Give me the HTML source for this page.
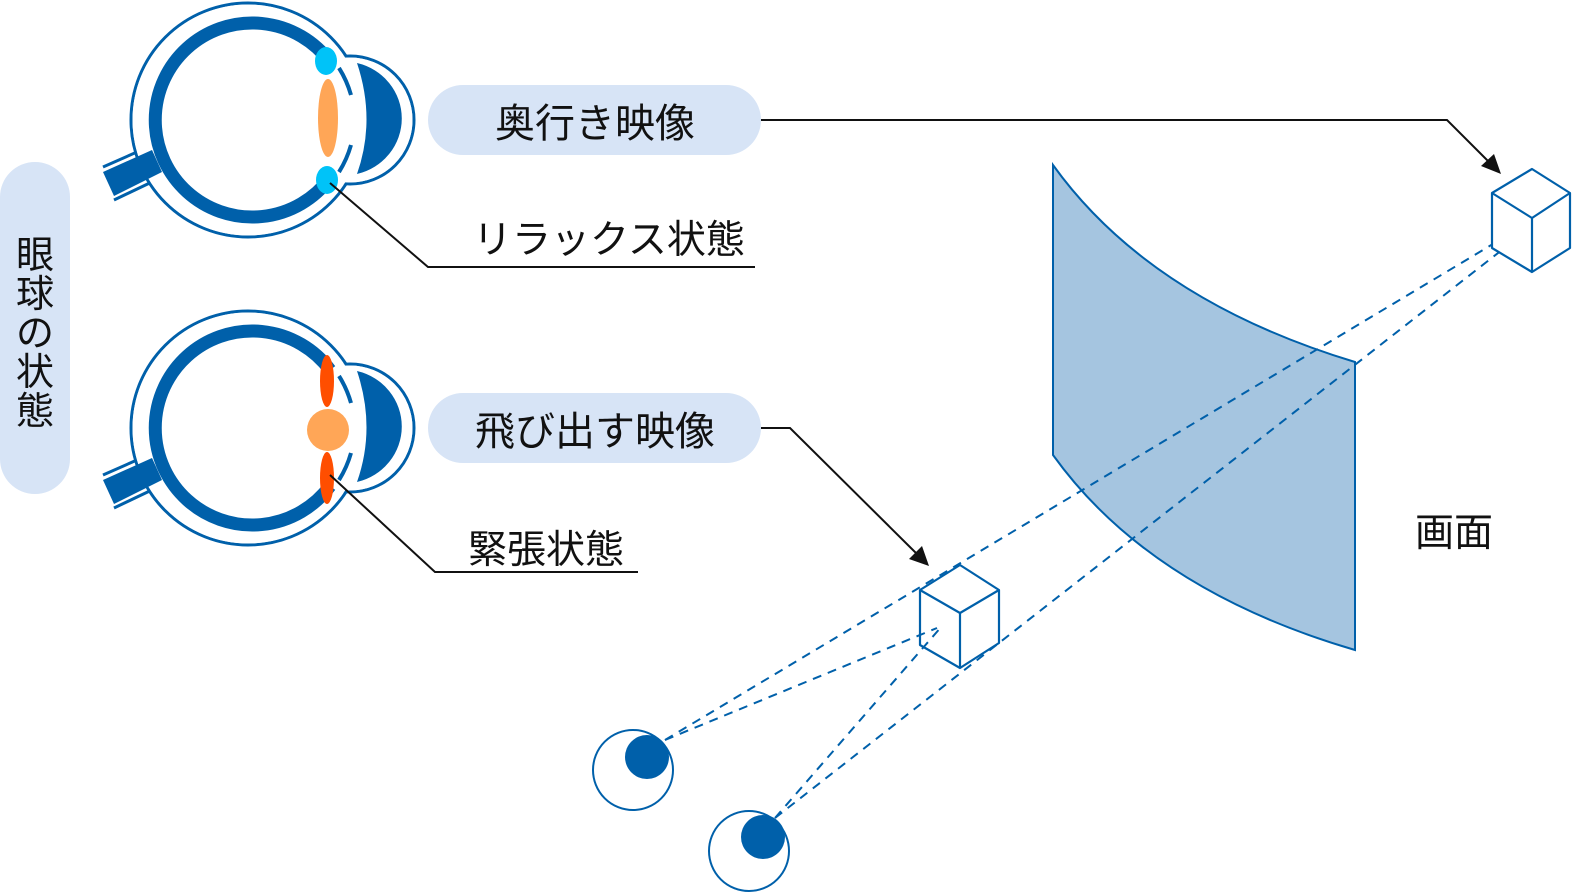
<!DOCTYPE html>
<html><head><meta charset="utf-8"><style>
html,body{margin:0;padding:0;background:#fff;}
svg{display:block;}
text{font-family:"Liberation Sans","Noto Sans CJK JP",sans-serif;fill:#111;}
</style></head><body>
<svg width="1573" height="893" viewBox="0 0 1573 893" xmlns="http://www.w3.org/2000/svg">
<defs>
<g id="eye">
  <line x1="103" y1="167" x2="146" y2="148" stroke="#0060aa" stroke-width="3"/>
  <line x1="114" y1="200" x2="156" y2="180" stroke="#0060aa" stroke-width="3"/>
  <circle cx="248" cy="120" r="117" fill="#fff" stroke="#0060aa" stroke-width="3"/>
  <circle cx="350" cy="120" r="64" fill="#fff" stroke="#0060aa" stroke-width="3"/>
  <circle cx="248" cy="120" r="115.5" fill="#fff"/>
  <circle cx="350" cy="120" r="62.5" fill="#fff"/>
  <polygon points="103,172 152,150 162,172 114,196" fill="#0060aa"/>
  <path d="M357,63 A58 57 0 0 1 357,174 Q376,120 357,63 Z" fill="#0060aa"/>
  <path d="M330,62 A97 97 0 1 0 330,178" fill="none" stroke="#0060aa" stroke-width="13"/>
  <path d="M339,68 A104 104 0 0 1 351,95" fill="none" stroke="#0060aa" stroke-width="4"/>
  <path d="M351,145 A104 104 0 0 1 339,172" fill="none" stroke="#0060aa" stroke-width="4"/>
</g>
</defs>

<rect x="0" y="162" width="70" height="332" rx="35" fill="#d7e4f6"/>
<text x="35" y="268" font-size="38" text-anchor="middle">眼</text>
<text x="35" y="307" font-size="38" text-anchor="middle">球</text>
<text x="35" y="346" font-size="38" text-anchor="middle">の</text>
<text x="35" y="385" font-size="38" text-anchor="middle">状</text>
<text x="35" y="424" font-size="38" text-anchor="middle">態</text>

<use href="#eye"/>
<ellipse cx="328" cy="118" rx="10" ry="39" fill="#ffa657"/>
<ellipse cx="326" cy="61" rx="11" ry="14" fill="#00c3f8"/>
<ellipse cx="327" cy="180" rx="11" ry="14" fill="#00c3f8"/>

<g transform="translate(0,308)"><use href="#eye"/></g>
<circle cx="328" cy="430" r="21" fill="#ffa657"/>
<ellipse cx="327" cy="381" rx="7" ry="26" fill="#ff4e00"/>
<ellipse cx="327" cy="478" rx="7" ry="26" fill="#ff4e00"/>

<polyline points="330,183 428,267 755,267" fill="none" stroke="#111" stroke-width="2"/>
<polyline points="330,475 435,572 638,572" fill="none" stroke="#111" stroke-width="2"/>
<text x="473" y="253" font-size="39">リラックス状態</text>
<text x="468" y="563" font-size="39">緊張状態</text>

<rect x="428" y="85" width="333" height="70" rx="35" fill="#d7e4f6"/>
<text x="595" y="137" font-size="40" text-anchor="middle">奥行き映像</text>
<rect x="428" y="393" width="333" height="70" rx="35" fill="#d7e4f6"/>
<text x="595" y="445" font-size="40" text-anchor="middle">飛び出す映像</text>

<polyline points="761,120 1447,120 1490,163" fill="none" stroke="#111" stroke-width="2"/>
<polygon points="1501,174 1481,166 1494,154" fill="#111"/>
<polyline points="761,428 790,428 918,555" fill="none" stroke="#111" stroke-width="2"/>
<polygon points="929,566 909,559 922,546" fill="#111"/>

<path d="M1053,165 Q1150,300 1355,362 L1355,650 Q1150,590 1053,455 Z" fill="#a5c5e0" stroke="#0060aa" stroke-width="2"/>
<text x="1415" y="546" font-size="39">画面</text>

<g stroke="#0060aa" stroke-width="2" stroke-dasharray="9,7" fill="none">
<line x1="665" y1="740" x2="1503" y2="238"/>
<line x1="665" y1="740" x2="937" y2="628"/>
<line x1="775" y1="818" x2="1507" y2="246"/>
<line x1="775" y1="818" x2="942" y2="626"/>
</g>

<g stroke="#0060aa" stroke-width="2.2" fill="#fff" stroke-linejoin="round">
<polygon points="1532,169 1570,193 1570,248 1532,272 1492,248 1492,193"/>
<polyline points="1492,193 1532,218 1570,193" fill="none"/>
<line x1="1532" y1="218" x2="1532" y2="272"/>
</g>
<g stroke="#0060aa" stroke-width="2.2" fill="none" stroke-linejoin="round">
<polygon points="960,565 999,590 999,643 960,668 920,645 920,590"/>
<polyline points="920,590 960,613 999,590"/>
<line x1="960" y1="613" x2="960" y2="668"/>
</g>

<circle cx="633" cy="770" r="40" fill="#fff" stroke="#0060aa" stroke-width="2"/>
<circle cx="647" cy="757" r="22" fill="#0060aa"/>
<circle cx="749" cy="851" r="40" fill="#fff" stroke="#0060aa" stroke-width="2"/>
<circle cx="763" cy="837" r="22" fill="#0060aa"/>
</svg>
</body></html>
